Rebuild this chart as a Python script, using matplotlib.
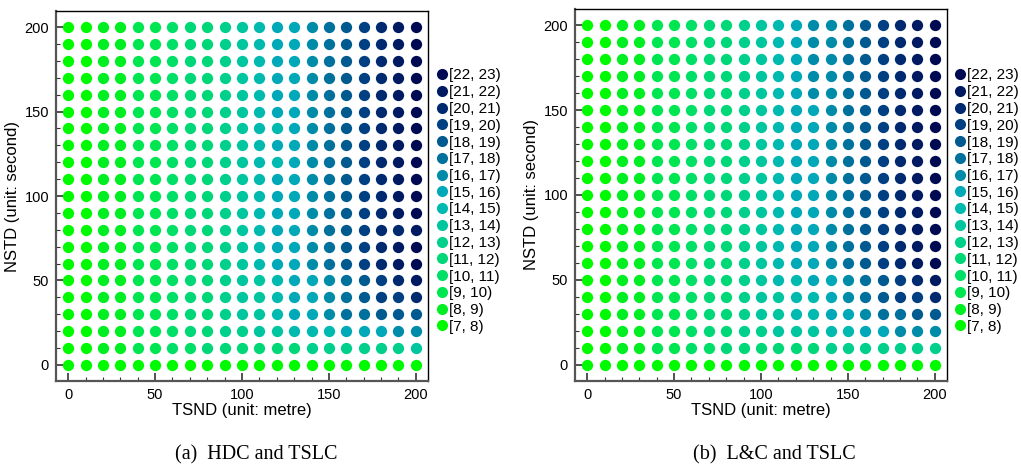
import matplotlib
matplotlib.use("Agg")
import matplotlib.pyplot as plt
from matplotlib.lines import Line2D
from matplotlib.ticker import MultipleLocator
import numpy as np

# ---- data ----
tsnd = list(range(0, 201, 10))          # x values (metre)
nstd = list(range(200, -1, -10))        # y values (second), rows top -> bottom
bin_labels = ["[7, 8)", "[8, 9)", "[9, 10)", "[10, 11)", "[11, 12)", "[12, 13)",
              "[13, 14)", "[14, 15)", "[15, 16)", "[16, 17)", "[17, 18)",
              "[18, 19)", "[19, 20)", "[20, 21)", "[21, 22)", "[22, 23)"]
bin_colors = ["#00fa00", "#00ee22", "#00e650", "#00df66", "#00d878", "#00d08c",
              "#00c6a0", "#00bab0", "#00a8b8", "#008ca8", "#00709c", "#005a90",
              "#004082", "#002a70", "#001a62", "#000a52"]

# bin index (hex digit) of each dot, one string per NSTD row (200 at top)
bins_hdc = [
    "001122344567889abcdef",  # 200
    "001122344567889abcdef",  # 190
    "001122344567889abcdef",  # 180
    "001122344567889abcdef",  # 170
    "001122344567889abcdef",  # 160
    "001122344567889abcdef",  # 150
    "001122344567789abcdef",  # 140
    "001122344567889abcdef",  # 130
    "001122344567789abcdef",  # 120
    "001122344567889abcdef",  # 110
    "001122344567889abcdef",  # 100
    "001122344567889abcdef",  # 90
    "001122344567889abcdde",  # 80
    "001122344567889abcdef",  # 70
    "001122344567889abcdef",  # 60
    "0011223445667889abcde",  # 50
    "0011223445667889abccd",  # 40
    "0011223445667889aabbb",  # 30
    "001122344556677788899",  # 20
    "001122334444445555556",  # 10
    "000000000000000000000",  # 0
]
bins_lc = [
    "001122344567899abcdef",  # 200
    "001122344567899abcdef",  # 190
    "001122344567899abcdef",  # 180
    "001122344567899abcdef",  # 170
    "001122344567899abcdef",  # 160
    "001122344567889abcdef",  # 150
    "001122344567889abcdef",  # 140
    "001122344567889abcdef",  # 130
    "001122344567889abcdef",  # 120
    "001122344567889abcdef",  # 110
    "001122344567889abcdef",  # 100
    "001122344567889abcdef",  # 90
    "001122344567889abcdef",  # 80
    "001122344567889abcdef",  # 70
    "001122344567889abcdef",  # 60
    "0011223445677889abcde",  # 50
    "0011223445667789abccd",  # 40
    "00112234456677889aabb",  # 30
    "001122344556667788999",  # 20
    "001122334444445555555",  # 10
    "000000000000000000000",  # 0
]
captions = ["(a)  HDC and TSLC", "(b)  L&C and TSLC"]

W, H = 1021, 468
fig = plt.figure(figsize=(W / 100, H / 100), dpi=100)
plt.rcParams['font.family'] = ['Liberation Sans', 'DejaVu Sans']


def px_axes(l, t, r, b):
    return fig.add_axes([l / W, 1 - b / H, (r - l) / W, (b - t) / H])


def draw(ax, rows, legend_x, cap, cap_x):
    X, Y, C = [], [], []
    for yi, row in zip(nstd, rows):
        for xi, ch in zip(tsnd, row):
            X.append(xi)
            Y.append(yi)
            C.append(int(ch, 16))
    X, Y, C = np.array(X), np.array(Y), np.array(C)
    for k in range(len(bin_labels)):
        m = C == k
        if m.any():
            ax.scatter(X[m], Y[m], s=66, color=bin_colors[k], linewidths=0, zorder=3)
    ax.set_xlim(-7, 207)
    ax.set_ylim(-9.5, 209.5)
    ax.xaxis.set_major_locator(MultipleLocator(50))
    ax.xaxis.set_minor_locator(MultipleLocator(10))
    ax.yaxis.set_major_locator(MultipleLocator(50))
    ax.yaxis.set_minor_locator(MultipleLocator(10))
    ax.tick_params(which='major', direction='in', length=6, width=1.2,
                   labelsize=10.5, pad=5, color='#333333')
    ax.tick_params(which='minor', direction='in', length=3, width=0.8, color='#333333')
    for s in ['left', 'bottom']:
        ax.spines[s].set_color('#555555')
        ax.spines[s].set_linewidth(1.6)
    for s in ['top', 'right']:
        ax.spines[s].set_color('black')
        ax.spines[s].set_linewidth(1.0)
    ax.set_xlabel("TSND (unit: metre)", fontsize=12, labelpad=1)
    ax.set_ylabel("NSTD (unit: second)", fontsize=12, labelpad=3)
    handles = [Line2D([], [], marker='o', linestyle='none', markersize=8,
                      markerfacecolor=bin_colors[k], markeredgewidth=0,
                      label=bin_labels[k]) for k in range(len(bin_labels) - 1, -1, -1)]
    fig.legend(handles=handles, loc='upper left',
               bbox_to_anchor=(legend_x / W, 1 - 68.5 / H), frameon=False,
               fontsize=11, handlelength=0.6, handletextpad=0.2,
               labelspacing=0.18, borderpad=0, borderaxespad=0)
    fig.text(cap_x / W, 1 - 455 / H, cap, ha='center', va='center',
             fontsize=14.5, family=['Liberation Serif', 'DejaVu Serif'])


ax1 = px_axes(56, 11, 428, 381)
draw(ax1, bins_hdc, 437, captions[0], 256)
ax2 = px_axes(575, 9, 947, 381)
draw(ax2, bins_lc, 955, captions[1], 774)

fig.savefig("out.png", dpi=100)
